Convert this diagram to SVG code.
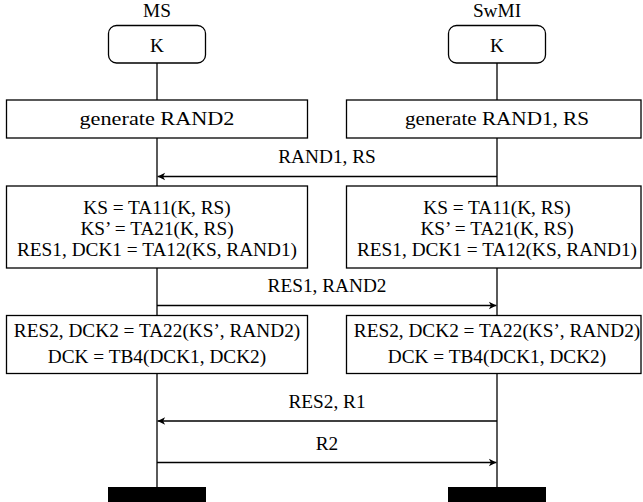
<svg xmlns="http://www.w3.org/2000/svg" width="643" height="502" viewBox="0 0 643 502">
  <style>
    .box { fill: #ffffff; stroke: #000000; stroke-width: 1.3; }
    .life { stroke: #000000; stroke-width: 1.3; fill: none; }
    .msg { stroke: #000000; stroke-width: 1.3; fill: none; marker-end: url(#head); }
    .bar { fill: #000000; stroke: none; }
    text { font-family: "Liberation Serif", "Times New Roman", serif; font-size: 19.3px; fill: #000000; text-anchor: middle; }
  </style>
  <defs>
    <marker id="head" markerUnits="userSpaceOnUse" markerWidth="10" markerHeight="10" viewBox="-8 -5 10 10" refX="0" refY="0" orient="auto">
      <path d="M0,0 L-7.5,-3.8 L-5.5,0 L-7.5,3.8 Z" fill="#000000"/>
    </marker>
  </defs>

  <!-- lifelines and messages -->
  <g id="connectors">
    <line class="life" x1="157" y1="63" x2="157" y2="487"/>
    <line class="life" x1="497" y1="63" x2="497" y2="487"/>
    <line class="msg" x1="497" y1="176.5" x2="157.6" y2="176.5"/>
    <line class="msg" x1="157" y1="305.5" x2="496.4" y2="305.5"/>
    <line class="msg" x1="497" y1="421" x2="157.6" y2="421"/>
    <line class="msg" x1="157" y1="462.5" x2="496.4" y2="462.5"/>
    <text x="327" y="163">RAND1, RS</text>
    <text x="327" y="292">RES1, RAND2</text>
    <text x="327" y="408">RES2, R1</text>
    <text x="327" y="450">R2</text>
  </g>

  <!-- MS column -->
  <g id="ms-head">
    <text x="157" y="16.5">MS</text>
    <rect class="box" x="108.5" y="25.5" width="97" height="37.5" rx="8"/>
    <text x="157" y="52">K</text>
  </g>
  <g id="ms-generate">
    <rect class="box" x="6.5" y="100" width="301" height="38"/>
    <text x="157" y="125" textLength="155" lengthAdjust="spacingAndGlyphs">generate RAND2</text>
  </g>
  <g id="ms-keys">
    <rect class="box" x="6.5" y="186" width="301" height="82"/>
    <text x="157" y="213.5">KS = TA11(K, RS)</text>
    <text x="157" y="234.5">KS’ = TA21(K, RS)</text>
    <text x="157" y="255.5">RES1, DCK1 = TA12(KS, RAND1)</text>
  </g>
  <g id="ms-dck">
    <rect class="box" x="6.5" y="315.5" width="301" height="58"/>
    <text x="157" y="337">RES2, DCK2 = TA22(KS’, RAND2)</text>
    <text x="157" y="362.5">DCK = TB4(DCK1, DCK2)</text>
  </g>
  <g id="ms-end">
    <rect class="bar" x="108" y="487" width="98" height="15"/>
  </g>

  <!-- SwMI column -->
  <g id="swmi-head">
    <text x="497" y="16.5">SwMI</text>
    <rect class="box" x="448.5" y="25.5" width="97" height="37.5" rx="8"/>
    <text x="497" y="52">K</text>
  </g>
  <g id="swmi-generate">
    <rect class="box" x="346.5" y="100" width="294.5" height="38"/>
    <text x="497" y="125" textLength="184" lengthAdjust="spacingAndGlyphs">generate RAND1, RS</text>
  </g>
  <g id="swmi-keys">
    <rect class="box" x="346.5" y="186" width="294.5" height="82"/>
    <text x="497" y="213.5">KS = TA11(K, RS)</text>
    <text x="497" y="234.5">KS’ = TA21(K, RS)</text>
    <text x="497" y="255.5">RES1, DCK1 = TA12(KS, RAND1)</text>
  </g>
  <g id="swmi-dck">
    <rect class="box" x="346.5" y="315.5" width="294.5" height="58"/>
    <text x="497" y="337">RES2, DCK2 = TA22(KS’, RAND2)</text>
    <text x="497" y="362.5">DCK = TB4(DCK1, DCK2)</text>
  </g>
  <g id="swmi-end">
    <rect class="bar" x="448" y="487" width="98" height="15"/>
  </g>
</svg>
